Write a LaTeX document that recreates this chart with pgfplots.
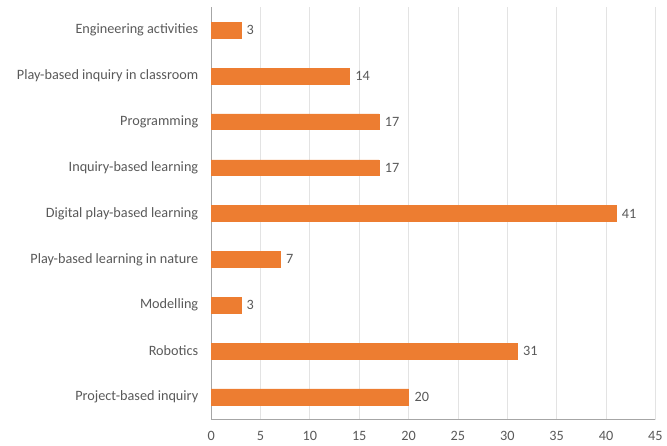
\documentclass[border=0pt]{standalone}
\usepackage{pgfplots}
\pgfplotsset{compat=1.18}
\usepackage{fontspec}
\setmainfont{Carlito}
\definecolor{barorange}{HTML}{ED7D31}
\definecolor{txtgrey}{HTML}{595959}
\definecolor{gridgrey}{HTML}{E3E3E3}
\definecolor{axisgrey}{HTML}{A6A6A6}
\begin{document}
\begin{tikzpicture}
\begin{axis}[
  name=ax,
  xbar,
  scale only axis,
  width=337pt, height=313pt,
  xmin=0, xmax=45,
  ymin=-0.5, ymax=8.5,
  xtick={0,5,...,45},
  ytick={0,...,8},
  yticklabels={Project-based inquiry,Robotics,Modelling,Play-based learning in nature,Digital play-based learning,Inquiry-based learning,Programming,Play-based inquiry in classroom,Engineering activities},
  bar width=12pt,
  xmajorgrids,
  major grid style={gridgrey, line width=0.6pt},
  axis x line*=bottom,
  axis y line*=left,
  x axis line style={axisgrey, line width=0.8pt, -},
  y axis line style={axisgrey, line width=0.6pt, -},
  tick style={draw=none},
  tick label style={font=\fontsize{10.8}{12}\selectfont, text=txtgrey},
  /pgf/number format/assume math mode=true,
  xticklabel style={yshift=-5pt},
  yticklabel style={xshift=-2pt},
  nodes near coords,
  nodes near coords style={font=\fontsize{10.8}{12}\selectfont, text=txtgrey, xshift=1pt},
  clip=false,
]
\addplot[fill=barorange, draw=barorange] coordinates {
  (20,0) (31,1) (3,2) (7,3) (41,4) (17,5) (17,6) (14,7) (3,8)
};
\end{axis}
\path ([xshift=-9.5pt]current bounding box.west);
\path ([yshift=5.5pt]ax.north);
\path ([yshift=-19.5pt]ax.south);
\end{tikzpicture}
\end{document}
